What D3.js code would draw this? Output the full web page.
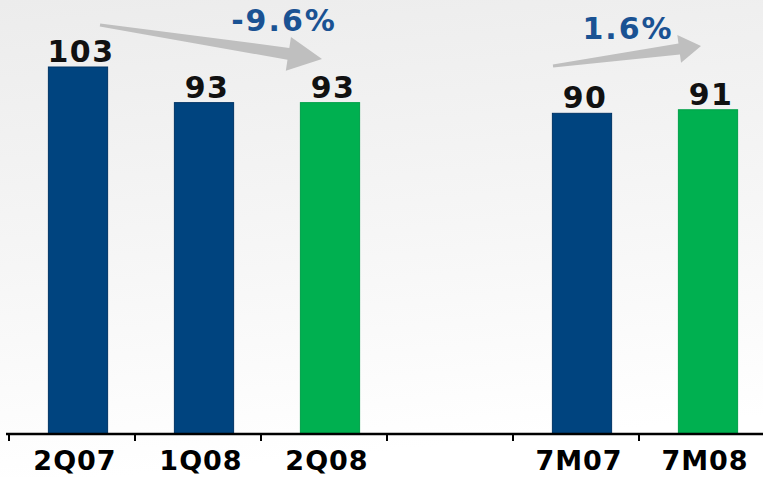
<!DOCTYPE html>
<html><head><meta charset="utf-8">
<script src="https://cdn.jsdelivr.net/npm/d3@7"></script>
<style>html,body{margin:0;padding:0;overflow:hidden;}svg{display:block;}</style>
</head><body>
<script>
const categories = ["2Q07", "1Q08", "2Q08", "gap", "7M07", "7M08"];
const tickLabels = ["2Q07", "1Q08", "2Q08", "", "7M07", "7M08"];
const values = [103, 93, 93, null, 90, 91];
const barColors = ["#00447f", "#00447f", "#00b050", null, "#00447f", "#00b050"];
const changes = [
  {label: "-9.6%", from: 0, to: 2},
  {label: "1.6%", from: 4, to: 5}
];

const W = 763, H = 477;
const svg = d3.select("body").append("svg").attr("width", W).attr("height", H);
const defs = svg.append("defs");
const g = defs.append("linearGradient").attr("id", "bg").attr("x1", 0).attr("y1", 0).attr("x2", 0.15).attr("y2", 1);
g.append("stop").attr("offset", "0%").attr("stop-color", "#ececec");
g.append("stop").attr("offset", "55%").attr("stop-color", "#f6f6f6");
g.append("stop").attr("offset", "100%").attr("stop-color", "#ffffff");
svg.append("rect").attr("width", W).attr("height", H).attr("fill", "url(#bg)");

const baseY = 434;
const x = d3.scaleBand().domain(categories).range([15, 771]).paddingInner(0.53).paddingOuter(0.265);
const y = d3.scaleLinear().domain([0, 103]).range([baseY, 67]);

const data = categories.map((c, i) => ({c, v: values[i], col: barColors[i], t: tickLabels[i]})).filter(d => d.v != null);

svg.selectAll("rect.bar").data(data).enter().append("rect")
  .attr("class", "bar")
  .attr("x", d => x(d.c))
  .attr("y", d => y(d.v))
  .attr("width", x.bandwidth())
  .attr("height", d => baseY - y(d.v))
  .attr("fill", d => d.col)
  .attr("stroke", d => d.col === "#00447f" ? "#003466" : "#00a048")
  .attr("stroke-width", 1);

svg.selectAll("text.val").data(data).enter().append("text")
  .attr("x", d => x(d.c) + x.bandwidth() / 2 + 3)
  .attr("y", d => y(d.v) - 5)
  .attr("text-anchor", "middle")
  .attr("font-family", "DejaVu Sans")
  .attr("font-weight", "bold")
  .attr("font-size", 30)
  .attr("letter-spacing", 1.5)
  .attr("fill", "#111")
  .text(d => d.v);

// axis
const step = x.step();
const gap = step - x.bandwidth();
const bounds = categories.map(c => x(c) - gap / 2 - 6);
bounds.push(bounds[bounds.length - 1] + step);
svg.append("line").attr("x1", 6).attr("x2", W).attr("y1", baseY).attr("y2", baseY)
  .attr("stroke", "#000").attr("stroke-width", 2.5);
svg.selectAll("line.tick").data(bounds).enter().append("line")
  .attr("x1", d => d).attr("x2", d => d).attr("y1", baseY).attr("y2", baseY + 7)
  .attr("stroke", "#000").attr("stroke-width", 2);
svg.selectAll("text.cat").data(categories).enter().append("text")
  .attr("x", c => x(c) + x.bandwidth() / 2 - 3)
  .attr("y", 470)
  .attr("text-anchor", "middle")
  .attr("font-family", "DejaVu Sans")
  .attr("font-weight", "bold")
  .attr("font-size", 27)
  .attr("letter-spacing", 1)
  .attr("fill", "#000")
  .text((c, i) => tickLabels[i]);

// arrows
function arrowPath(x0, y0, x1, y1, w0, w1, hw, hl) {
  const dx = x1 - x0, dy = y1 - y0, L = Math.hypot(dx, dy);
  const ux = dx / L, uy = dy / L, nx = -uy, ny = ux;
  const bx = x1 - ux * hl, by = y1 - uy * hl;
  const p = [
    [x0 + nx * w0 / 2, y0 + ny * w0 / 2],
    [bx + nx * w1 / 2, by + ny * w1 / 2],
    [bx + nx * hw / 2, by + ny * hw / 2],
    [x1, y1],
    [bx - nx * hw / 2, by - ny * hw / 2],
    [bx - nx * w1 / 2, by - ny * w1 / 2],
    [x0 - nx * w0 / 2, y0 - ny * w0 / 2]
  ];
  return "M" + p.map(q => q.join(",")).join("L") + "Z";
}
const arrowSpecs = [
  {x0: 100, y0: 25, x1: 322, y1: 59, w0: 3, w1: 12, hw: 34, hl: 34, lx: 284, ly: 31},
  {x0: 553, y0: 66, x1: 701, y1: 46, w0: 3, w1: 11, hw: 28, hl: 22, lx: 628, ly: 39}
];
changes.forEach((ch, i) => {
  const a = arrowSpecs[i];
  svg.append("path").attr("d", arrowPath(a.x0, a.y0, a.x1, a.y1, a.w0, a.w1, a.hw, a.hl))
    .attr("fill", "#bfbfbf");
  svg.append("text").attr("x", a.lx).attr("y", a.ly).attr("text-anchor", "middle")
    .attr("font-family", "DejaVu Sans").attr("font-weight", "bold").attr("font-size", 30)
    .attr("letter-spacing", 2)
    .attr("fill", "#1a5293").text(ch.label);
});
</script>
</body></html>
